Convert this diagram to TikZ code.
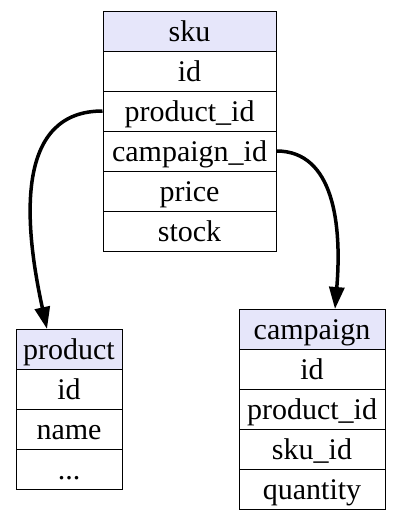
\documentclass[tikz,border=0pt]{standalone}
\usepackage{fontspec}
\setmainfont{Liberation Serif}
\usetikzlibrary{arrows.meta}
\definecolor{hdr}{HTML}{E6E6FA}
\tikzset{
  cell/.style={draw=black, line width=1pt, inner sep=0pt, minimum height=40pt,
    text height=27pt, text depth=5.6pt, font=\fontsize{30}{36}\selectfont, fill=white},
  hcell/.style={cell, fill=hdr},
  fk/.style={line width=3.5pt, -{Triangle[length=22pt,width=15pt]}},
}
\begin{document}
\begin{tikzpicture}[x=1pt,y=-1pt]
\useasboundingbox (0,0) rectangle (400,520);
% sku
\begin{scope}[every node/.append style={minimum width=173pt}]
\node[hcell] (sku0) at (189.5,31) {sku};
\node[cell] (sku1) at (189.5,71) {id};
\node[cell] (sku2) at (189.5,111) {product\_id};
\node[cell] (sku3) at (189.5,151) {campaign\_id};
\node[cell] (sku4) at (189.5,191) {price};
\node[cell] (sku5) at (189.5,231) {stock};
\end{scope}
% product
\begin{scope}[every node/.append style={minimum width=106pt}]
\node[hcell] (pr0) at (69,349) {product};
\node[cell] (pr1) at (69,389) {id};
\node[cell] (pr2) at (69,429) {name};
\node[cell] (pr3) at (69,469) {...};
\end{scope}
% campaign
\begin{scope}[every node/.append style={minimum width=146pt}]
\node[hcell] (ca0) at (312,329) {campaign};
\node[cell] (ca1) at (312,369) {id};
\node[cell] (ca2) at (312,409) {product\_id};
\node[cell] (ca3) at (312,449) {sku\_id};
\node[cell] (ca4) at (312,489) {quantity};
\end{scope}
\coordinate (ptip) at (47,329);
\coordinate (ctip) at (335,309);
\draw[fk] (sku2.west) .. controls (18,111) and (22,215) .. (ptip);
\draw[fk] (sku3.east) .. controls (334,151) and (342,225) .. (ctip);
\end{tikzpicture}
\end{document}
